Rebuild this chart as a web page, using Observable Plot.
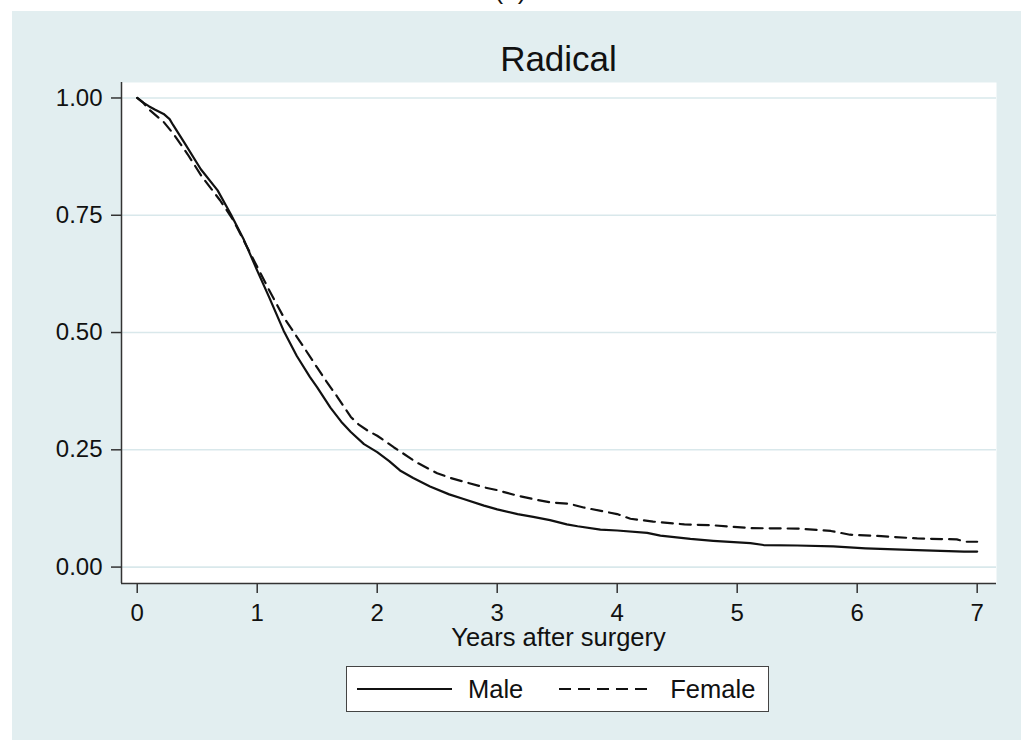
<!DOCTYPE html>
<html>
<head>
<meta charset="utf-8">
<script src="https://cdn.jsdelivr.net/npm/d3@7"></script>
<script src="https://cdn.jsdelivr.net/npm/@observablehq/plot@0.6"></script>
<style>
  html, body { margin: 0; padding: 0; background: #ffffff; }
  body { width: 1021px; height: 740px; position: relative; overflow: hidden;
         font-family: "Liberation Sans", Arial, sans-serif; color: #111; }
  #panel { position: absolute; left: 12px; top: 11px; width: 1009px; height: 729px; background: #e2eef0; }
  #tag { position: absolute; left: 0; width: 1021px; top: -23px; text-align: center; font-size: 26px; line-height: 26px; }
  #title { position: absolute; left: 121px; width: 875px; top: 41px; text-align: center; font-size: 35px; line-height: 35px; }
  #chart { position: absolute; left: 12px; top: 80px; }
  #xlabel { position: absolute; left: 121px; width: 875px; top: 625px; text-align: center; font-size: 25.5px; line-height: 25.5px; }
  #legend { position: absolute; left: 346px; top: 666px; width: 421px; height: 44px; background: #fff;
            border: 1.5px solid #444; display: flex; align-items: center; font-size: 25.5px; }
  #legend .item { display: flex; align-items: center; }
  #legend svg { display: block; }
</style>
</head>
<body>
<div id="panel"></div>
<div id="tag">(a)</div>
<div id="title">Radical</div>
<div id="chart"></div>
<div id="xlabel">Years after surgery</div>
<div id="legend"></div>
<script>
// ---- data ----
const seriesNames = ["Male", "Female"];
const maleTime = [0, 0.05, 0.1, 0.15, 0.22, 0.27, 0.3, 0.39, 0.53, 0.67, 0.78, 0.89, 1.0, 1.1, 1.22, 1.33, 1.44, 1.5, 1.61, 1.7, 1.78, 1.89, 2.0, 2.1, 2.19, 2.3, 2.44, 2.6, 2.72, 2.89, 3.0, 3.17, 3.3, 3.44, 3.58, 3.67, 3.86, 4.0, 4.25, 4.36, 4.61, 4.8, 5.11, 5.22, 5.5, 5.8, 6.07, 6.5, 6.89, 7.0];
const maleSurv = [1.0, 0.99, 0.982, 0.975, 0.966, 0.955, 0.942, 0.906, 0.848, 0.803, 0.752, 0.697, 0.632, 0.575, 0.504, 0.45, 0.405, 0.383, 0.34, 0.31, 0.288, 0.262, 0.245, 0.226, 0.206, 0.19, 0.172, 0.155, 0.145, 0.131, 0.123, 0.113, 0.107, 0.1, 0.091, 0.087, 0.08, 0.078, 0.073, 0.067, 0.06, 0.056, 0.051, 0.047, 0.046, 0.044, 0.04, 0.036, 0.033, 0.033];
const femaleTime = [0, 0.05, 0.1, 0.22, 0.3, 0.42, 0.54, 0.69, 0.8, 0.9, 1.0, 1.1, 1.22, 1.39, 1.5, 1.56, 1.67, 1.78, 1.85, 1.92, 2.0, 2.14, 2.33, 2.5, 2.61, 2.89, 3.0, 3.17, 3.3, 3.44, 3.6, 3.72, 4.0, 4.11, 4.3, 4.56, 4.8, 5.11, 5.5, 5.78, 5.94, 6.2, 6.5, 6.83, 6.9, 7.0];
const femaleSurv = [1.0, 0.99, 0.975, 0.949, 0.924, 0.88, 0.832, 0.782, 0.74, 0.69, 0.64, 0.59, 0.533, 0.468, 0.425, 0.402, 0.362, 0.32, 0.303, 0.291, 0.28, 0.255, 0.223, 0.2, 0.19, 0.17, 0.164, 0.152, 0.145, 0.138, 0.135, 0.127, 0.113, 0.103, 0.097, 0.091, 0.089, 0.083, 0.082, 0.077, 0.069, 0.066, 0.061, 0.059, 0.054, 0.054];
const xTicks = [0, 1, 2, 3, 4, 5, 6, 7];
const yTicks = [0, 0.25, 0.5, 0.75, 1];

const male = maleTime.map((t, i) => ({t, s: maleSurv[i], sex: seriesNames[0]}));
const female = femaleTime.map((t, i) => ({t, s: femaleSurv[i], sex: seriesNames[1]}));

const xDomain = [-0.131, 7.161];
const yDomain = [-0.035, 1.033];
const dash = "11,7";

const chart = Plot.plot({
  width: 1009,
  height: 545,
  marginLeft: 109,
  marginRight: 25,
  marginTop: 2,
  marginBottom: 42,
  style: {background: "transparent", color: "#222", fontFamily: "'Liberation Sans', Arial, sans-serif"},
  x: {domain: xDomain},
  y: {domain: yDomain},
  marks: [
    Plot.frame({fill: "#ffffff", stroke: null}),
    Plot.ruleY(yTicks, {stroke: "#d9e8eb", strokeWidth: 1.6}),
    Plot.line(female, {x: "t", y: "s", stroke: "#111", strokeWidth: 2.2, strokeDasharray: dash}),
    Plot.line(male, {x: "t", y: "s", stroke: "#111", strokeWidth: 2.2}),
    Plot.ruleX([xDomain[0]], {stroke: "#333", strokeWidth: 1.5}),
    Plot.ruleY([yDomain[0]], {stroke: "#333", strokeWidth: 1.5}),
    Plot.axisY({ticks: yTicks, tickFormat: d => d.toFixed(2), tickSize: 10, tickPadding: 9,
                fontSize: 24, label: null, strokeWidth: 1.5, stroke: "#333", fill: "#111"}),
    Plot.axisX({ticks: xTicks, tickFormat: d => String(d), tickSize: 10, tickPadding: 10,
                fontSize: 24, label: null, strokeWidth: 1.5, stroke: "#333", fill: "#111"})
  ]
});
document.getElementById("chart").appendChild(chart);

// legend
const legend = document.getElementById("legend");
function sample(dashed) {
  const ns = "http://www.w3.org/2000/svg";
  const svg = document.createElementNS(ns, "svg");
  svg.setAttribute("width", 95); svg.setAttribute("height", 10);
  const ln = document.createElementNS(ns, "line");
  ln.setAttribute("x1", 0); ln.setAttribute("x2", 95); ln.setAttribute("y1", 5); ln.setAttribute("y2", 5);
  ln.setAttribute("stroke", "#111"); ln.setAttribute("stroke-width", 2.2);
  if (dashed) ln.setAttribute("stroke-dasharray", "12,7");
  svg.appendChild(ln);
  return svg;
}
const items = [[seriesNames[0], false, 10, 16], [seriesNames[1], true, 36, 16]];
items.forEach(([name, dashed, ml, gap]) => {
  const it = document.createElement("div");
  it.className = "item";
  it.style.marginLeft = ml + "px";
  const sp = document.createElement("span");
  sp.textContent = name;
  sp.style.marginLeft = gap + "px";
  it.appendChild(sample(dashed));
  it.appendChild(sp);
  legend.appendChild(it);
});
</script>
</body>
</html>
